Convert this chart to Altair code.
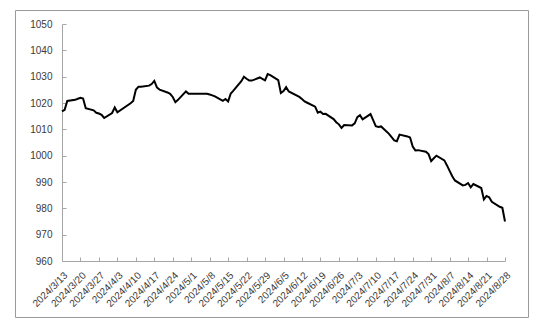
import altair as alt
import pandas as pd

dates = [
    "2024/3/13", "2024/3/14", "2024/3/15", "2024/3/18", "2024/3/19", "2024/3/20", "2024/3/21", "2024/3/22",
    "2024/3/25", "2024/3/26", "2024/3/27", "2024/3/28", "2024/3/29",
    "2024/4/1", "2024/4/2", "2024/4/3", "2024/4/8", "2024/4/9", "2024/4/10", "2024/4/11", "2024/4/12",
    "2024/4/15", "2024/4/16", "2024/4/17", "2024/4/18", "2024/4/19", "2024/4/22", "2024/4/23", "2024/4/24",
    "2024/4/25", "2024/4/26", "2024/4/29", "2024/4/30",
    "2024/5/6", "2024/5/7", "2024/5/8", "2024/5/9", "2024/5/10", "2024/5/13", "2024/5/14", "2024/5/15",
    "2024/5/16", "2024/5/17", "2024/5/20", "2024/5/21", "2024/5/22", "2024/5/23", "2024/5/24", "2024/5/27",
    "2024/5/28", "2024/5/29", "2024/5/30", "2024/5/31",
    "2024/6/3", "2024/6/4", "2024/6/5", "2024/6/6", "2024/6/7", "2024/6/11", "2024/6/12", "2024/6/13",
    "2024/6/14", "2024/6/17", "2024/6/18", "2024/6/19", "2024/6/20", "2024/6/21", "2024/6/24", "2024/6/25",
    "2024/6/26", "2024/6/27", "2024/6/28",
    "2024/7/1", "2024/7/2", "2024/7/3", "2024/7/4", "2024/7/5", "2024/7/8", "2024/7/9", "2024/7/10",
    "2024/7/11", "2024/7/12", "2024/7/15", "2024/7/16", "2024/7/17", "2024/7/18", "2024/7/19", "2024/7/22",
    "2024/7/23", "2024/7/24", "2024/7/25", "2024/7/26", "2024/7/29", "2024/7/30", "2024/7/31",
    "2024/8/1", "2024/8/2", "2024/8/5", "2024/8/6", "2024/8/7", "2024/8/8", "2024/8/9", "2024/8/12",
    "2024/8/13", "2024/8/14", "2024/8/15", "2024/8/16", "2024/8/19", "2024/8/20", "2024/8/21", "2024/8/22",
    "2024/8/23", "2024/8/26", "2024/8/27", "2024/8/28",
]

values = [
    1016.8, 1017.4, 1020.8, 1021.2, 1021.6, 1022.0, 1021.7, 1018.0,
    1017.2, 1016.3, 1016.0, 1015.5, 1014.3,
    1016.2, 1018.3, 1016.5, 1019.9, 1020.8, 1025.0, 1026.2, 1026.2,
    1026.6, 1027.2, 1028.4, 1025.9, 1025.1, 1024.0, 1023.5, 1022.3,
    1020.3, 1021.2, 1024.4, 1023.5,
    1023.5, 1023.5, 1023.2, 1022.9, 1022.5, 1020.8, 1021.5, 1020.6,
    1023.6, 1024.7, 1028.3, 1030.0, 1029.2, 1028.5, 1028.5, 1029.7,
    1029.2, 1028.6, 1031.0, 1030.6,
    1028.7, 1023.8, 1024.5, 1026.0, 1024.4, 1022.3, 1021.5, 1020.6,
    1020.1, 1018.6, 1016.3, 1016.7, 1015.8, 1015.9, 1013.9, 1012.7,
    1011.9, 1010.5, 1011.6,
    1011.5, 1012.3, 1014.6, 1015.4, 1013.8, 1015.8, 1013.5, 1011.2,
    1010.9, 1011.1, 1008.3, 1007.0, 1005.8, 1005.5, 1008.0, 1007.3,
    1006.9, 1003.5, 1002.0, 1002.1, 1001.5, 1000.6, 997.9,
    999.0, 1000.0, 998.2, 996.3, 994.2, 992.2, 990.6, 988.7,
    988.9, 989.6, 988.0, 989.2, 987.7, 983.4, 984.7, 984.2,
    982.5, 980.6, 980.2, 975.0,
]

y_ticks = [960, 970, 980, 990, 1000, 1010, 1020, 1030, 1040, 1050]

df = pd.DataFrame({"date": pd.to_datetime(dates, format="%Y/%m/%d"), "value": values})
start = df["date"].iloc[0]
df["day"] = (df["date"] - start).dt.days
last_day = int(df["day"].iloc[-1])
x_ticks = list(range(0, last_day + 1, 7))

W = 443
H = 237
AXIS_COLOR = "#a6a6a6"
LABEL_COLOR = "#3a3a3a"
FONT = "Liberation Sans"
BORDER = "#999999"

label_expr = (
    f"timeFormat(datetime({start.year}, {start.month - 1}, {start.day} + datum.value), '%Y/%-m/%-d')"
)

x_scale = alt.Scale(domain=[0, last_day], nice=False, zero=False)
y_scale = alt.Scale(domain=[960, 1050], nice=False, zero=False)

base = alt.Chart(df)

line = base.mark_line(color="black", strokeWidth=2).encode(
    x=alt.X(
        "day:Q",
        scale=x_scale,
        axis=alt.Axis(
            values=x_ticks, labelExpr=label_expr, labelAngle=-45, labelAlign="right",
            labelBaseline="top", labelPadding=9, ticks=False, grid=False, title=None,
            domainColor=AXIS_COLOR, labelColor=LABEL_COLOR, labelFont=FONT, labelFontSize=10,
            labelOverlap=False, labelBound=False, labelFlush=False,
        ),
    ),
    y=alt.Y(
        "value:Q",
        scale=y_scale,
        axis=alt.Axis(
            values=y_ticks, format="d", ticks=False, grid=False, title=None, labelPadding=10,
            domainColor=AXIS_COLOR, labelColor=LABEL_COLOR, labelFont=FONT, labelFontSize=10,
            labelFlush=False,
        ),
    ),
)

ticks = base.mark_line(opacity=0).encode(
    x=alt.X(
        "day:Q", scale=x_scale,
        axis=alt.Axis(orient="top", offset=-H, values=x_ticks, labels=False, domain=False,
                      ticks=True, tickSize=4, tickColor=AXIS_COLOR, grid=False, title=None),
    ),
    y=alt.Y(
        "value:Q", scale=y_scale,
        axis=alt.Axis(orient="right", offset=-W, values=y_ticks, labels=False, domain=False,
                      ticks=True, tickSize=4, tickColor=AXIS_COLOR, grid=False, title=None),
    ),
)

one = pd.DataFrame({"a": [0]})
L, R, T, B = -46.5, 466.5, -13.5, 293.5
def rule(**enc):
    return alt.Chart(one).mark_rule(color=BORDER, strokeWidth=1).encode(**enc)

border = [
    rule(x=alt.value(L), x2=alt.value(R), y=alt.value(T)),
    rule(x=alt.value(L), x2=alt.value(R), y=alt.value(B)),
    rule(x=alt.value(L), y=alt.value(T), y2=alt.value(B)),
    rule(x=alt.value(R), y=alt.value(T), y2=alt.value(B)),
]

chart = (
    alt.layer(*border, line, ticks)
    .resolve_axis(x="independent", y="independent")
    .properties(
        width=W, height=H,
        autosize=alt.AutoSizeParams(type="none"),
        padding={"left": 54, "top": 16, "right": 25, "bottom": 58},
    )
    .configure_view(stroke=None)
)

chart.save("out.html", embed_options={"renderer": "svg", "actions": False})
